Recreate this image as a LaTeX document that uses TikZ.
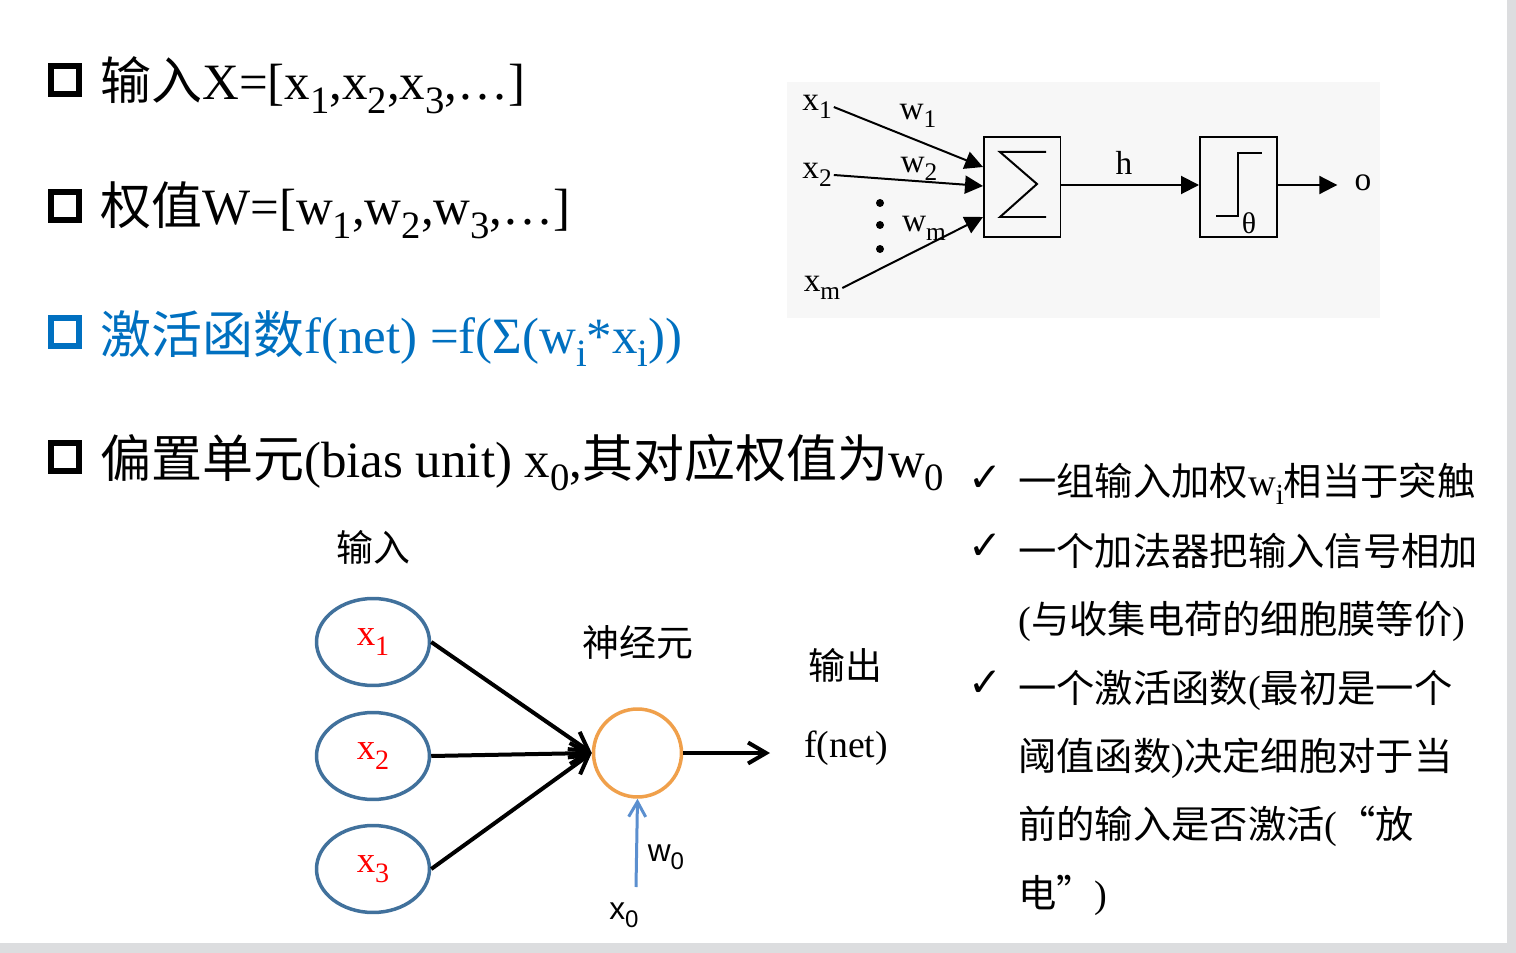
\documentclass[tikz,border=0pt]{standalone}
\usepackage{fontspec}
\usepackage{graphicx}
\setmainfont{Liberation Serif}
\setsansfont{Liberation Sans}
\newfontfamily\cjk{Noto Sans CJK SC}
\newfontfamily\chkfont{DejaVu Sans}
\usetikzlibrary{arrows.meta,shapes.geometric,positioning}
\definecolor{pptblue}{HTML}{0070C0}
\definecolor{ellblue}{HTML}{41719C}
\definecolor{neuorange}{HTML}{F0A04B}
\definecolor{biasblue}{HTML}{5B8FCF}
\definecolor{pagegray}{HTML}{DCDDDF}
\definecolor{imgbg}{HTML}{F7F7F7}
\newcommand\fs[1]{\fontsize{#1}{#1}\selectfont}
\newcommand\sbs[1]{\raisebox{-0.26em}{\scalebox{0.76}{#1}}}
\tikzset{
  bulletbox/.style={line width=0.12cm},
  bullettext/.style={anchor=base west, inner sep=0, font=\fs{29pt}},
  chk/.style={anchor=base, inner sep=0, font=\chkfont\fs{23pt}},
  notetext/.style={anchor=base west, inner sep=0, font=\fs{21.8pt}},
  blk/.style={draw, line width=0.04cm, minimum width=1.54cm, minimum height=2.0cm},
  tri/.style={-{Triangle[length=0.36cm,width=0.36cm]}, line width=0.04cm},
  ell/.style={ellipse, draw=ellblue, line width=0.07cm, minimum width=2.26cm, minimum height=1.74cm, text=red, font=\fs{21pt}},
  inarrow/.style={-{Straight Barb[length=0.36cm,width=0.42cm]}, line width=0.08cm},
}
\begin{document}
\begin{tikzpicture}[x=0.02cm, y=-0.02cm]
% page and its grey border
\fill[pagegray] (0,0) rectangle (1516,953);
\fill[white] (0,0) rectangle (1507,943);
\useasboundingbox (0,0) rectangle (1516,953);

% left bullets
\draw[bulletbox] (51,66) rectangle (79,94);
\draw[bulletbox] (51,192) rectangle (79,220);
\draw[bulletbox, pptblue] (51,318) rectangle (79,346);
\draw[bulletbox] (51,443) rectangle (79,471);
\node[bullettext] (l1) at (100,100) {{\cjk 输入}X=[x\sbs{1},x\sbs{2},x\sbs{3},…]};
\node[bullettext] (l2) at (100,225) {{\cjk 权值}W=[w\sbs{1},w\sbs{2},w\sbs{3},…]};
\node[bullettext, text=pptblue] (l3) at (100,353) {{\cjk 激活函数}f(net) =f(Σ(w\sbs{i}*x\sbs{i}))};
\node[bullettext] (l4) at (100,477) {{\cjk 偏置单元}(bias unit) x\sbs{0},{\cjk 其对应权值为}w\sbs{0}};

% block diagram (top right)
\fill[imgbg] (787,82) rectangle (1380,318);
\node[blk] (sum) at (1022,187) {};
\node[blk] (thr) at (1238.5,187) {};
\draw[line width=0.04cm, line join=miter] (1046,152) -- (1000,152) -- (1037,184) -- (1000,217) -- (1046,217);
\draw[line width=0.04cm] (1216,216) -- (1238,216) -- (1238,153) -- (1262,153);
\node[font=\fs{17pt}, inner sep=0] (theta) at (1249,223) {θ};
\node[font=\fs{19pt}, inner sep=1pt] (x1) at (817,107) {x\sbs{1}};
\node[font=\fs{19pt}, inner sep=1pt] (x2) at (817,175) {x\sbs{2}};
\node[font=\fs{19pt}, inner sep=1pt] (xm) at (822,288) {x\sbs{m}};
\node[font=\fs{19pt}, inner sep=0] (w1) at (918,116) {w\sbs{1}};
\node[font=\fs{19pt}, inner sep=0] (w2) at (919,169) {w\sbs{2}};
\node[font=\fs{19pt}, inner sep=0] (wm) at (924,228) {w\sbs{m}};
\node[font=\fs{19pt}, inner sep=0] (h) at (1124,163) {h};
\node[font=\fs{19pt}, inner sep=0.34cm] (out) at (1363,183) {o};
\coordinate (s1) at (983,167);
\coordinate (s2) at (983,186);
\coordinate (sm) at (983,217);
\draw[tri] (x1.east) -- (s1);
\draw[tri] (x2.east) -- (s2);
\draw[tri] (xm.east) -- (sm);
\draw[tri] (sum.east |- 0,185) -- (thr.west |- 0,185);
\draw[tri] (thr.east |- 0,185) -- (out.west |- 0,185);
\foreach \y in {203,225,249}
  \fill (880,\y) circle (4);

% right notes
\node[chk] (c1) at (985,491) {✓};
\node[chk] (c2) at (985,559) {✓};
\node[chk] (c4) at (985,696) {✓};
\node[notetext] (n1) at (1018,495) {{\cjk 一组输入加权}w\sbs{i}{\cjk 相当于突触}};
\node[notetext] (n2) at (1018,565) {\cjk 一个加法器把输入信号相加};
\node[notetext] (n3) at (1018,633) {({\cjk 与收集电荷的细胞膜等价})};
\node[notetext] (n4) at (1018,702) {{\cjk 一个激活函数}({\cjk 最初是一个}};
\node[notetext] (n5) at (1018,770) {{\cjk 阈值函数})\cjk 决定细胞对于当};
\node[notetext] (n6) at (1018,838) {{\cjk 前的输入是否激活}(\cjk “放};
\node[notetext] (n7) at (1018,907) {{\cjk 电”})};

% neuron (bottom)
\node[font=\cjk\fs{21pt}] (inlab) at (373,547) {输入};
\node[font=\cjk\fs{21pt}] (neulab) at (638,642) {神经元};
\node[font=\cjk\fs{21pt}] (outlab) at (845,665) {输出};
\node[font=\fs{21.5pt}] (fnet) at (846,748) {f(net)};
\node[ell] (in1) at (373,642) {x\sbs{1}};
\node[ell] (in2) at (373,756) {x\sbs{2}};
\node[ell] (in3) at (373,869) {x\sbs{3}};
\node[circle, draw=neuorange, line width=0.07cm, minimum size=1.76cm] (neu) at (637.5,753) {};
\draw[inarrow] (in1.east) -- (neu.west);
\draw[inarrow] (in2.east) -- (neu.west);
\draw[inarrow] (in3.east) -- (neu.west);
\coordinate (fout) at (770,753);
\draw[inarrow] (neu.east) -- (fout);
\node[font=\sffamily\fs{18pt}] (w0) at (666,857) {w\sbs{0}};
\node[font=\sffamily\fs{18pt}] (x0) at (624,915) {x\sbs{0}};
\coordinate (bias) at (636,887);
\draw[-{Straight Barb[length=0.3cm,width=0.34cm]}, line width=0.06cm, biasblue] (bias) -- (neu.south);
\end{tikzpicture}
\end{document}
